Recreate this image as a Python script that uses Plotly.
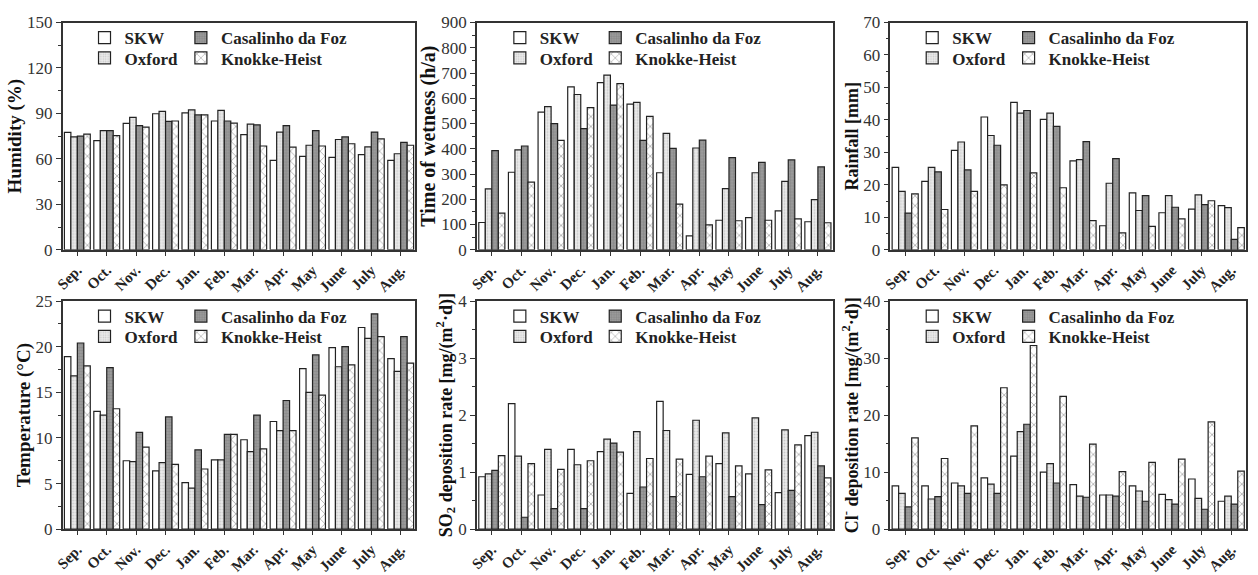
import plotly.graph_objects as go

months = ["Sep.", "Oct.", "Nov.", "Dec.", "Jan.", "Feb.", "Mar.", "Apr.", "May", "June", "July", "Aug."]
series_names = ["SKW", "Oxford", "Casalinho da Foz", "Knokke-Heist"]

# Humidity (%)
hum_skw = [77.5, 72, 83.5, 89.8, 90.4, 85, 76, 59, 61.7, 61, 62.8, 59]
hum_oxf = [74.5, 78.7, 87.4, 91.3, 92.3, 92, 83, 77.7, 69, 72.8, 67.9, 63.4]
hum_cas = [75, 78.7, 82, 84.7, 89, 85, 82.5, 82, 78.7, 74.5, 77.7, 70.9]
hum_kno = [76.4, 75.3, 81, 85, 89, 83.6, 68.5, 67.7, 68.5, 70, 73.2, 69]

# Time of wetness (h/a)
tow_skw = [108, 307, 545, 645, 662, 577, 305, 55, 117, 127, 154, 111]
tow_oxf = [241, 396, 567, 615, 692, 584, 461, 403, 242, 305, 271, 199]
tow_cas = [393, 411, 500, 480, 573, 433, 402, 434, 365, 346, 356, 328]
tow_kno = [145, 268, 433, 563, 658, 528, 181, 99, 115, 117, 122, 107]

# Rainfall [mm]
rain_skw = [25.4, 21.1, 30.6, 40.9, 45.4, 40.2, 27.4, 7.4, 17.5, 11.4, 12.5, 13.6]
rain_oxf = [18, 25.4, 33.2, 35.2, 42.1, 42.1, 27.8, 20.5, 12.1, 16.7, 16.9, 13]
rain_cas = [11.3, 24, 24.6, 32.2, 42.9, 38, 33.3, 28.1, 16.7, 13.1, 13.9, 3.2]
rain_kno = [17.2, 12.4, 18, 20, 23.7, 19.1, 9, 5.2, 7.2, 9.5, 15.1, 6.8]

# Temperature (C)
temp_skw = [18.9, 12.9, 7.5, 6.4, 5.1, 7.6, 9.8, 11.8, 17.6, 19.9, 22.1, 18.7]
temp_oxf = [16.8, 12.5, 7.4, 7.3, 4.5, 7.6, 8.5, 10.8, 15.0, 17.8, 20.9, 17.3]
temp_cas = [20.4, 17.7, 10.6, 12.3, 8.7, 10.4, 12.5, 14.1, 19.1, 20.0, 23.6, 21.1]
temp_kno = [17.9, 13.2, 9.0, 7.1, 6.6, 10.4, 8.8, 10.8, 14.7, 18.0, 21.1, 18.2]

# SO2 deposition rate
so2_skw = [0.92, 2.2, 0.6, 1.4, 1.36, 0.63, 2.24, 0.96, 1.15, 0.97, 0.64, 1.64]
so2_oxf = [0.97, 1.28, 1.4, 1.13, 1.58, 1.71, 1.73, 1.91, 1.69, 1.95, 1.74, 1.7]
so2_cas = [1.03, 0.21, 0.36, 0.36, 1.51, 0.74, 0.57, 0.92, 0.57, 0.43, 0.68, 1.11]
so2_kno = [1.29, 1.15, 1.05, 1.2, 1.35, 1.24, 1.23, 1.28, 1.11, 1.04, 1.48, 0.9]

# Cl- deposition rate
cl_skw = [7.6, 7.6, 8.1, 9.0, 12.8, 10.0, 7.8, 6.0, 7.6, 6.1, 8.8, 4.9]
cl_oxf = [6.3, 5.3, 7.6, 7.9, 17.1, 11.5, 5.8, 6.0, 6.7, 5.2, 5.4, 5.8]
cl_cas = [3.9, 5.7, 6.3, 6.3, 18.4, 8.1, 5.6, 5.8, 4.9, 4.4, 3.5, 4.4]
cl_kno = [16.0, 12.4, 18.1, 24.8, 32.2, 23.3, 14.9, 10.1, 11.7, 12.3, 18.8, 10.2]

panels = [
    dict(data=[hum_skw, hum_oxf, hum_cas, hum_kno], title="<b>Humidity (%)</b>", rng=[0, 150], dt=30, tsize=19),
    dict(data=[tow_skw, tow_oxf, tow_cas, tow_kno], title="<b>Time of wetness (h/a)</b>", rng=[0, 900], dt=100, tsize=20),
    dict(data=[rain_skw, rain_oxf, rain_cas, rain_kno], title="<b>Rainfall [mm]</b>", rng=[0, 70], dt=10, tsize=18),
    dict(data=[temp_skw, temp_oxf, temp_cas, temp_kno], title="<b>Temperature (°C)</b>", rng=[0, 25], dt=5, tsize=19),
    dict(data=[so2_skw, so2_oxf, so2_cas, so2_kno], title="<b>SO<sub>2</sub> deposition rate [mg/(m<sup>2</sup>·d)]</b>", rng=[0, 4], dt=1, tsize=18),
    dict(data=[cl_skw, cl_oxf, cl_cas, cl_kno], title="<b>Cl<sup>-</sup> deposition rate [mg/(m<sup>2</sup>·d)]</b>", rng=[0, 40], dt=10, tsize=18),
]

W, H = 1258, 575
col_px = [(55, 410), (472, 830), (888, 1246)]
row_px = [(14, 249), (302, 538)]
# legend text start (px) for the two legend columns of each panel column
leg_text_x = [(122, 219), (540, 636), (955, 1052)]
# legend row centres (px) for the two legend rows of each panel row
leg_row_y = [(30, 51), (318, 339)]

styles = [
    dict(color="white", pattern=None),
    dict(color="#e6e6e6", pattern=dict(shape=".", fgcolor="#a8a8a8", bgcolor="#ebebeb", size=3, solidity=0.3)),
    dict(color="#8c8c8c", pattern=dict(shape="+", fgcolor="#6e6e6e", bgcolor="#9a9a9a", size=3, solidity=0.3)),
    dict(color="white", pattern=dict(shape="x", fgcolor="#444444", bgcolor="white", size=7, solidity=0.2)),
]
# legend cell (column, row) of each series
cell = [(0, 0), (0, 1), (1, 0), (1, 1)]

FONT = "Liberation Serif"
fig = go.Figure()
layout = dict(width=W, height=H, margin=dict(l=0, r=0, t=0, b=0),
              paper_bgcolor="white", plot_bgcolor="white",
              barmode="group", bargap=0.12, bargroupgap=0.0,
              font=dict(family=FONT, color="#222222"))

leg_count = 0
for i, p in enumerate(panels):
    r, c = divmod(i, 3)
    n = i + 1
    xa = "x" if n == 1 else f"x{n}"
    ya = "y" if n == 1 else f"y{n}"
    x0, x1 = col_px[c]
    yt, yb = row_px[r]
    for k, (name, vals) in enumerate(zip(series_names, p["data"])):
        st = styles[k]
        marker = dict(color=st["color"], line=dict(color="#222222", width=1.2))
        if st["pattern"] is not None:
            marker["pattern"] = st["pattern"]
        leg_count += 1
        lg = "legend" if leg_count == 1 else f"legend{leg_count}"
        fig.add_trace(go.Bar(x=months, y=vals, name=name, marker=marker,
                             xaxis=xa, yaxis=ya, legend=lg, showlegend=True))
        lc, lr = cell[k]
        layout[lg] = dict(x=(leg_text_x[c][lc] - 45) / W, y=1 - leg_row_y[r][lr] / H,
                          xanchor="left", yanchor="middle",
                          orientation="v", bgcolor="rgba(0,0,0,0)", borderwidth=0,
                          font=dict(family=FONT, size=17, weight="bold", color="#222222"),
                          itemwidth=30, tracegroupgap=0)
    axkey = "xaxis" if n == 1 else f"xaxis{n}"
    aykey = "yaxis" if n == 1 else f"yaxis{n}"
    layout[axkey] = dict(domain=[x0 / W, x1 / W], anchor=ya, type="category",
                         categoryorder="array", categoryarray=months,
                         showline=True, mirror=True, linecolor="#333333", linewidth=1.5,
                         ticks="outside", ticklen=4, tickcolor="#333333", tickangle=-45,
                         tickfont=dict(family=FONT, size=15, weight="bold", color="#222222"),
                         showgrid=False, zeroline=False)
    layout[aykey] = dict(domain=[1 - yb / H, 1 - yt / H], anchor=xa,
                         range=p["rng"], dtick=p["dt"], tick0=0,
                         showline=True, mirror=True, linecolor="#333333", linewidth=1.5,
                         ticks="outside", ticklen=5, tickcolor="#333333",
                         minor=dict(ticks="outside", ticklen=3, dtick=p["dt"] / 2, tickcolor="#333333"),
                         tickfont=dict(family=FONT, size=17, color="#333333"),
                         title=dict(text=p["title"], font=dict(family=FONT, size=p["tsize"], color="#111111"), standoff=0),
                         showgrid=False, zeroline=False)

fig.update_layout(**layout)
fig.write_html("out.html")
